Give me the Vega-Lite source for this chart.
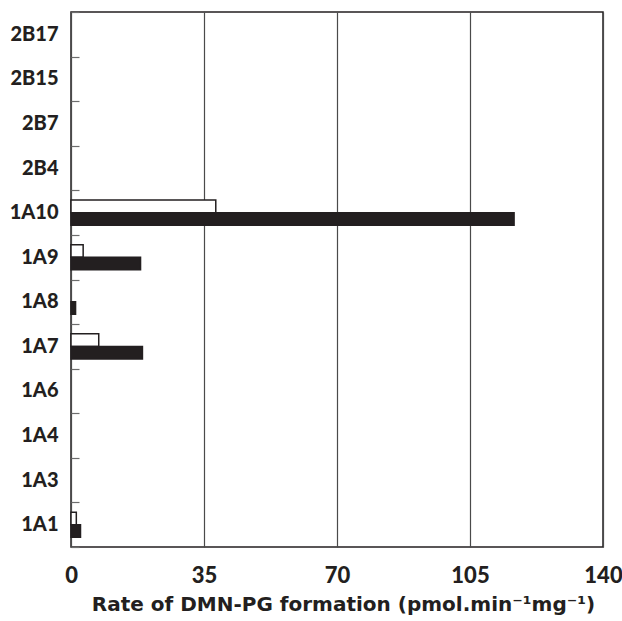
{
  "$schema": "https://vega.github.io/schema/vega-lite/v6.json",
  "width": 532,
  "height": 535,
  "autosize": "none",
  "padding": {"left": 71, "top": 12, "right": 19, "bottom": 74},
  "background": "white",
  "config": {
    "view": {"stroke": "#231f20", "strokeWidth": 1.5},
    "font": "Lato"
  },
  "data": {
    "values": [
      {"isoform": "1A10", "set": "open", "rate": 38.1},
      {"isoform": "1A10", "set": "solid", "rate": 116.6},
      {"isoform": "1A9", "set": "open", "rate": 3.2},
      {"isoform": "1A9", "set": "solid", "rate": 18.3},
      {"isoform": "1A8", "set": "solid", "rate": 1.2},
      {"isoform": "1A7", "set": "open", "rate": 7.3},
      {"isoform": "1A7", "set": "solid", "rate": 18.8},
      {"isoform": "1A1", "set": "open", "rate": 1.4},
      {"isoform": "1A1", "set": "solid", "rate": 2.5}
    ]
  },
  "mark": {"type": "bar", "strokeWidth": 1.5, "stroke": "#231f20"},
  "encoding": {
    "y": {
      "field": "isoform",
      "type": "nominal",
      "scale": {
        "domain": ["2B17", "2B15", "2B7", "2B4", "1A10", "1A9", "1A8", "1A7", "1A6", "1A4", "1A3", "1A1"],
        "paddingInner": 0,
        "paddingOuter": 0
      },
      "axis": {
        "title": null,
        "domain": false,
        "tickBand": "extent",
        "tickSize": -8,
        "tickColor": "#6d6d6d",
        "tickWidth": 1.2,
        "labelFont": "Lato",
        "labelFontWeight": 900,
        "labelFontSize": 20,
        "labelColor": "#231f20",
        "labelPadding": 21
      }
    },
    "yOffset": {
      "field": "set",
      "type": "nominal",
      "scale": {"domain": ["open", "solid"], "paddingInner": 0, "paddingOuter": 0.78}
    },
    "x": {
      "field": "rate",
      "type": "quantitative",
      "scale": {"domain": [0, 140], "nice": false},
      "axis": {
        "values": [0, 35, 70, 105, 140],
        "domain": false,
        "ticks": false,
        "grid": true,
        "gridColor": "#4a4a4a",
        "gridWidth": 1.2,
        "labelFont": "Lato",
        "labelFontWeight": 900,
        "labelFontSize": 22,
        "labelColor": "#231f20",
        "labelPadding": 18,
        "labelFlush": false,
        "title": "Rate of DMN-PG formation (pmol.min⁻¹mg⁻¹)",
        "titleFont": "DejaVu Sans",
        "titleFontWeight": "bold",
        "titleFontSize": 20,
        "titleColor": "#231f20",
        "titlePadding": 8,
        "titleX": 272
      }
    },
    "fill": {
      "field": "set",
      "type": "nominal",
      "scale": {"domain": ["open", "solid"], "range": ["#ffffff", "#231f20"]},
      "legend": null
    }
  }
}
